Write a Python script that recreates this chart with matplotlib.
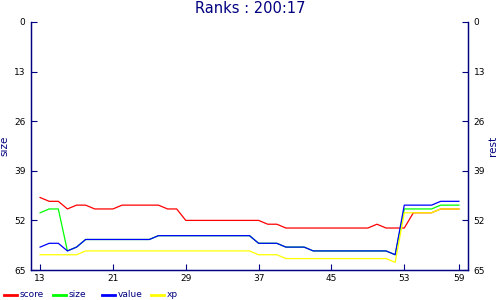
import matplotlib
matplotlib.use("Agg")
import matplotlib.pyplot as plt
from matplotlib.lines import Line2D

# ranks per step (13..59), drawn on an inverted axis
steps = list(range(13, 60))
score = [46, 47, 47, 49, 48, 48, 49, 49, 49, 48, 48, 48, 48, 48, 49, 49,
         52, 52, 52, 52, 52, 52, 52, 52, 52, 53, 53,
         54, 54, 54, 54, 54, 54, 54, 54, 54, 54, 53, 54, 54, 54,
         50, 50, 50, 49, 49, 49]
value = [59, 58, 58, 60, 59,
         57, 57, 57, 57, 57, 57, 57, 57,
         56, 56, 56, 56, 56, 56, 56, 56, 56, 56, 56,
         58, 58, 58, 59, 59, 59,
         60, 60, 60, 60, 60, 60, 60, 60, 60, 61,
         48, 48, 48, 48, 47, 47, 47]
# size sits under value between steps 16 and 52
size = [50, 49, 49] + value[3:40] + [49, 49, 49, 49, 48, 48, 48]
xp = [61, 61, 61, 61, 61, 60, 60, 60, 60, 60, 60, 60, 60, 60, 60, 60,
      60, 60, 60, 60, 60, 60, 60, 60, 61, 61, 61,
      62, 62, 62, 62, 62, 62, 62, 62, 62, 62, 62, 62, 63,
      50, 50, 50, 50, 49, 49, 49]

series = [("score", score, "#ff0000"), ("size", size, "#00ff00"),
          ("value", value, "#0000ff"), ("xp", xp, "#ffff00")]

x_ticks = [13, 21, 29, 37, 45, 53, 59]
y_ticks = [0, 13, 26, 39, 52, 65]
navy = "#000080"

plt.rcParams["font.family"] = ["DejaVu Sans"]

fig = plt.figure(figsize=(5, 3), dpi=100)
ax = fig.add_axes([0.062, 0.1, 0.874, 0.8267])

for name, vals, col in series:
    ax.plot(steps, vals, color=col, lw=0.9)

ax.set_xlim(12, 60)
ax.set_ylim(65, 0)
ax.set_xticks(x_ticks)
ax.set_yticks(y_ticks)
ax.tick_params(direction="in", length=4, width=0.8, color=navy,
               labelsize=6.5, pad=3)
ax.tick_params(axis="y", pad=4)
for s in ["left", "bottom", "right"]:
    ax.spines[s].set_color(navy)
    ax.spines[s].set_linewidth(0.9)
ax.spines["top"].set_visible(False)
ax.set_ylabel("size", color=navy, fontsize=7.5, labelpad=3)

ax2 = ax.twinx()
ax2.set_ylim(65, 0)
ax2.set_yticks(y_ticks)
ax2.tick_params(direction="in", length=4, width=0.8, color=navy,
                labelsize=6.5, pad=4)
for s in ["left", "bottom", "right"]:
    ax2.spines[s].set_color(navy)
    ax2.spines[s].set_linewidth(0.9)
ax2.spines["top"].set_visible(False)
ax2.set_ylabel("rest", color=navy, fontsize=7.5, labelpad=2)

fig.suptitle("Ranks : 200:17", color=navy, fontsize=10.5, y=0.997)

# legend row at the bottom, fixed spacing per entry
for i, (name, vals, col) in enumerate(series):
    x0 = (4 + i * 49) / 500
    fig.add_artist(Line2D([x0, x0 + 13 / 500], [0.017, 0.017], color=col,
                          lw=2, transform=fig.transFigure))
    fig.text(x0 + 16 / 500, 0.017, name, color=navy, fontsize=6.5,
             va="center", ha="left")

fig.savefig("out.png", dpi=100)
